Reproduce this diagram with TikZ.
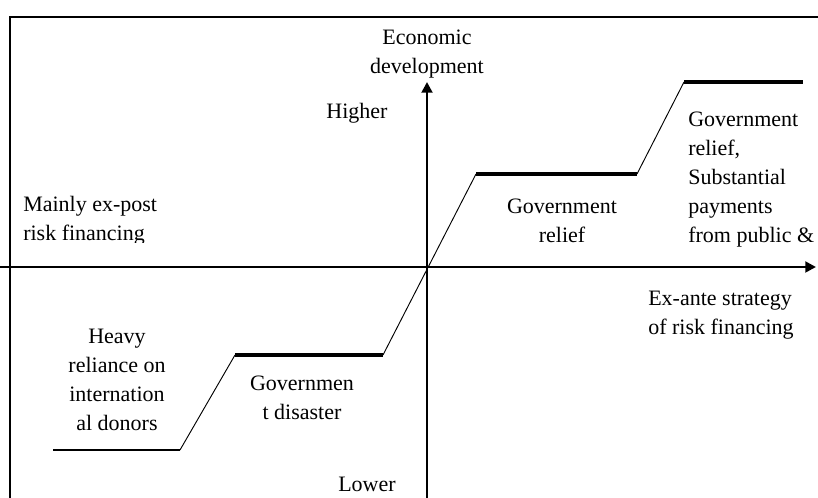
\documentclass[tikz,border=0pt]{standalone}
\usepackage{fontspec}
\setmainfont{Liberation Serif}
\usetikzlibrary{arrows.meta}
\begin{document}
\begin{tikzpicture}[x=0.75pt,y=-0.75pt,
  lbl/.style={inner sep=0pt,font=\fontsize{16.5}{21.75}\selectfont},
  lblc/.style={lbl,align=center},
  lbll/.style={lbl,align=left,anchor=west},
  axis/.style={line width=2.1pt,-{Triangle[length=8pt,width=8pt]}},
  frameline/.style={line width=1.1pt},
  rise/.style={line width=0.7pt},
  stepA/.style={line width=1.7pt},
  stepB/.style={line width=2.8pt},
  stepC/.style={line width=3.2pt}]
\useasboundingbox (0,0) rectangle (818,498);
% frame
\coordinate (fl) at (10,498);
\coordinate (ftl) at (10,17);
\coordinate (ftr) at (818,17);
\draw[frameline] (fl) -- (ftl) -- (ftr);
% axes
\coordinate (xs) at (0,267);
\coordinate (xe) at (816,267);
\coordinate (ys) at (427,498);
\coordinate (ye) at (427,82);
\draw[axis] (xs) -- (xe);
\draw[axis] (ys) -- (ye);
% step curve points
\coordinate (p0) at (53,450);
\coordinate (p1) at (180,450);
\coordinate (p2) at (235,355);
\coordinate (p3) at (383,355);
\coordinate (p4) at (476,174);
\coordinate (p5) at (637,174);
\coordinate (p6) at (684,82);
\coordinate (p7) at (803,82);
\draw[stepA] (p0) -- (p1);
\draw[rise] (p1) -- (p2);
\draw[stepB] (p2) -- (p3);
\draw[rise] (p3) -- (p4);
\draw[stepC] (p4) -- (p5);
\draw[rise] (p5) -- (p6);
\draw[stepC] (p6) -- (p7);
% labels
\node[lblc] (econ) at (427,54) {Economic\\development};
\node[lblc] (high) at (357,113) {Higher};
\node[lblc] (low) at (367,484) {Lower};
\begin{scope}
\clip (12,180) rectangle (200,243);
\node[lbll] (expost) at (23,221) {Mainly ex-post\\risk financing};
\end{scope}
\node[lblc] (grel) at (562,221) {Government\\relief};
\node[lbll] (gsub) at (688,180) {Government\\relief,\\Substantial\\payments\\from public \&};
\node[lbll] (exante) at (648,315) {Ex-ante strategy\\of risk financing};
\node[lblc] (heavy) at (117,380) {Heavy\\reliance on\\internation\\al donors};
\node[lblc] (gdis) at (302,398) {Governmen\\t disaster};
\end{tikzpicture}
\end{document}
